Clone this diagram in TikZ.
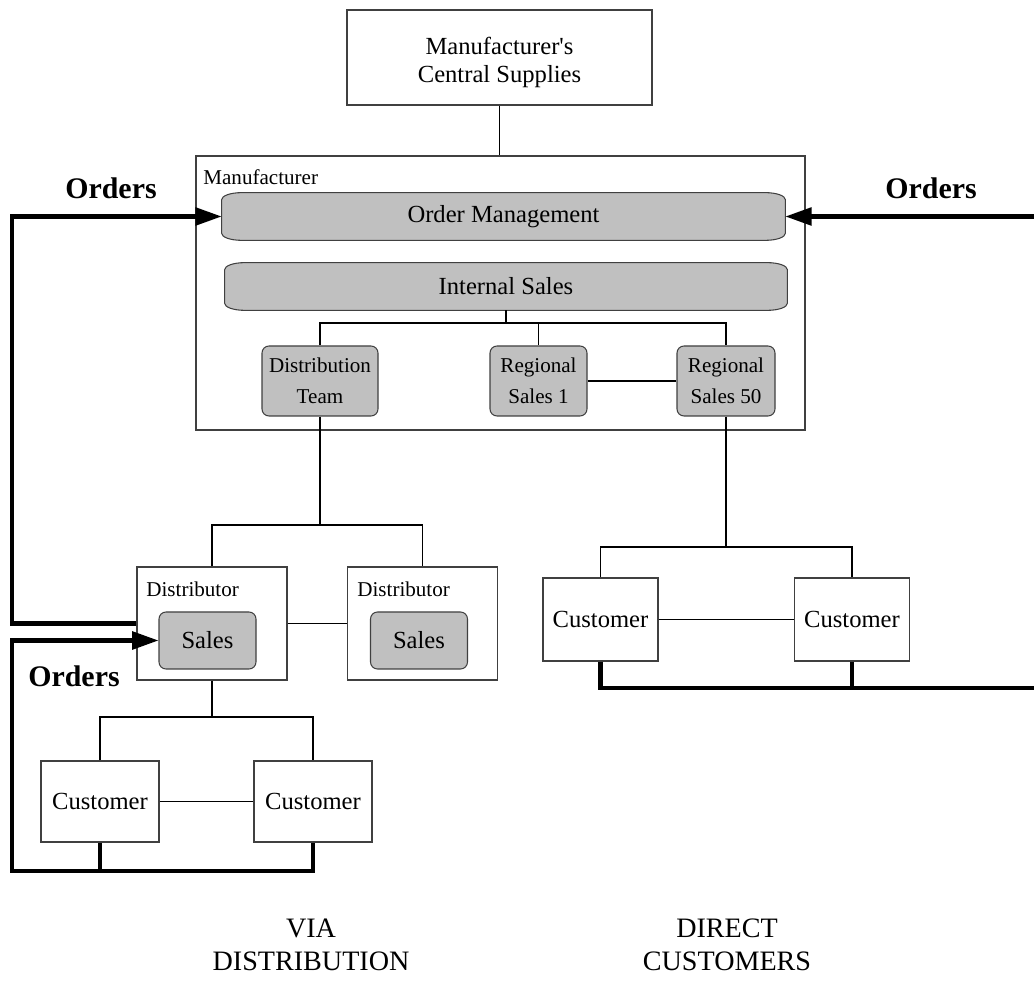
\documentclass[tikz,border=0pt]{standalone}
\usepackage{fontspec}
\setmainfont{Liberation Serif}
\usetikzlibrary{arrows.meta,positioning,backgrounds}
\definecolor{panelgray}{HTML}{C0C0C0}
\definecolor{edge}{HTML}{404040}
\tikzset{
  plainbox/.style={draw=edge,fill=white,line width=0.6pt,inner sep=0pt,
                   align=center,font=\fontsize{14}{15.5}\selectfont},
  container/.style={draw=edge,line width=0.6pt,inner sep=0pt},
  unitbox/.style={draw=edge,fill=panelgray,line width=0.6pt,rounded corners=4pt,
                  inner sep=0pt,align=center,font=\fontsize{12}{17.5}\selectfont},
  salesbox/.style={unitbox,font=\fontsize{14}{16}\selectfont},
  panel/.style={inner sep=0pt,minimum height=0.94cm,font=\fontsize{14}{16}\selectfont},
  panelline/.style={draw=edge,fill=panelgray,line width=0.6pt},
  tag/.style={anchor=north west,inner sep=0pt,font=\fontsize{12}{14}\selectfont},
  link/.style={line width=0.6pt},
  orderline/.style={line width=2.3pt},
  orderarr/.style={orderline,-{Triangle[length=15pt,width=10pt]}},
  ordertext/.style={font=\fontsize{17}{20}\selectfont\bfseries},
  channel/.style={align=center,font=\fontsize{16}{18.7}\selectfont}
}
% grey bar with flat elliptic corners, drawn behind its node
\newcommand{\panelframe}[1]{%
  \begin{scope}[on background layer]
    \path[panelline] ([xshift=4mm]#1.north west) -- ([xshift=-4mm]#1.north east)
      arc[start angle=90,end angle=0,x radius=4mm,y radius=1.4mm]
      -- ([yshift=1.4mm]#1.south east)
      arc[start angle=0,end angle=-90,x radius=4mm,y radius=1.4mm]
      -- ([xshift=4mm]#1.south west)
      arc[start angle=270,end angle=180,x radius=4mm,y radius=1.4mm]
      -- ([yshift=-1.4mm]#1.north west)
      arc[start angle=180,end angle=90,x radius=4mm,y radius=1.4mm]
      -- cycle;
  \end{scope}}
\begin{document}
\begin{tikzpicture}
  \useasboundingbox (0,0) rectangle (20.68,19.66);

  % central supplies and manufacturer
  \node[plainbox,minimum width=6.1cm,minimum height=1.9cm] (central) at (9.99,18.51) {};
  \node[align=center,font=\fontsize{14}{15.8}\selectfont] (centraltxt) at (9.99,18.41)
    {Manufacturer\textquotesingle s\\Central Supplies};
  \node[container,minimum width=12.18cm,minimum height=5.48cm] (manuf) at (10.01,13.8) {};
  \node[tag] (manuftag) at (4.06,16.28) {Manufacturer};
  \draw[link] (central.south) -- (central.south |- manuf.north);

  \node[panel,minimum width=11.26cm] (ordmgmt) at (10.07,15.33) {Order Management};
  \panelframe{ordmgmt}
  \node[panel,minimum width=11.24cm] (intsales) at (10.12,13.93) {Internal Sales};
  \panelframe{intsales}

  \node[unitbox,minimum width=2.32cm,minimum height=1.4cm] (dteam) at (6.4,12.04)
    {Distribution\\Team};
  \node[unitbox,minimum width=1.94cm,minimum height=1.4cm] (rs1) at (10.77,12.04)
    {Regional\\Sales 1};
  \node[unitbox,minimum width=1.96cm,minimum height=1.4cm] (rs50) at (14.52,12.04)
    {Regional\\Sales 50};

  \coordinate (mgmtbus) at (0,13.2);
  \draw[link] (intsales.south) -- (intsales.south |- mgmtbus);
  \draw[link] (dteam.north) |- (rs50.north |- mgmtbus) -- (rs50.north);
  \draw[link] (rs1.north) -- (rs1.north |- mgmtbus);
  \draw[link] (rs1.east) -- (rs50.west);

  % via distribution
  \node[container,minimum width=3.0cm,minimum height=2.26cm] (dist1) at (4.24,7.19) {};
  \node[tag] (dist1tag) at (2.92,8.02) {Distributor};
  \node[salesbox,minimum width=1.94cm,minimum height=1.14cm] (sales1) at (4.15,6.85) {Sales};
  \node[container,minimum width=3.0cm,minimum height=2.26cm] (dist2) at (8.45,7.19) {};
  \node[tag] (dist2tag) at (7.14,8.02) {Distributor};
  \node[salesbox,minimum width=1.94cm,minimum height=1.14cm] (sales2) at (8.38,6.85) {Sales};

  \coordinate (distbus) at (0,9.16);
  \draw[link] (dteam.south) -- (dteam.south |- distbus);
  \draw[link] (dist1.north) |- (dist2.north |- distbus) -- (dist2.north);
  \draw[link] (dist1.east) -- (dist2.west);

  \node[plainbox,minimum width=2.36cm,minimum height=1.62cm] (lcust1) at (2.0,3.63) {Customer};
  \node[plainbox,minimum width=2.36cm,minimum height=1.62cm] (lcust2) at (6.26,3.63) {Customer};
  \coordinate (lbus) at (0,5.32);
  \draw[link] (dist1.south) -- (dist1.south |- lbus);
  \draw[link] (lcust1.north) |- (lcust2.north |- lbus) -- (lcust2.north);
  \draw[link] (lcust1.east) -- (lcust2.west);

  % direct customers
  \node[plainbox,minimum width=2.3cm,minimum height=1.66cm] (rcust1) at (12.01,7.27) {Customer};
  \node[plainbox,minimum width=2.3cm,minimum height=1.66cm] (rcust2) at (17.04,7.27) {Customer};
  \coordinate (rbus) at (0,8.72);
  \draw[link] (rs50.south) -- (rs50.south |- rbus);
  \draw[link] (rcust1.north) |- (rcust2.north |- rbus) -- (rcust2.north);
  \draw[link] (rcust1.east) -- (rcust2.west);

  % order flows
  \coordinate (leftrail) at (0.24,0);
  \coordinate (rightrail) at (20.68,0);
  \coordinate (lfloor) at (0.24,2.24);
  \coordinate (rfloor) at (20.68,5.9);
  \draw[orderarr] (dist1.west) -| (leftrail |- ordmgmt.west) -- (ordmgmt.west);
  \draw[orderarr] (rightrail |- ordmgmt.east) -- (ordmgmt.east);
  \draw[orderarr] (lcust2.south) |- (lfloor) |- (sales1.west);
  \draw[orderline] (lcust1.south) -- (lcust1.south |- lfloor);
  \draw[orderline] (rcust1.south) |- (rfloor);
  \draw[orderline] (rcust2.south) -- (rcust2.south |- rfloor);

  \node[ordertext] (ordersl) at (2.22,15.9) {Orders};
  \node[ordertext] (ordersr) at (18.62,15.9) {Orders};
  \node[ordertext] (ordersd) at (1.48,6.14) {Orders};

  \node[channel] (viadist) at (6.22,0.76) {VIA\\DISTRIBUTION};
  \node[channel] (direct) at (14.54,0.76) {DIRECT\\CUSTOMERS};
\end{tikzpicture}
\end{document}
